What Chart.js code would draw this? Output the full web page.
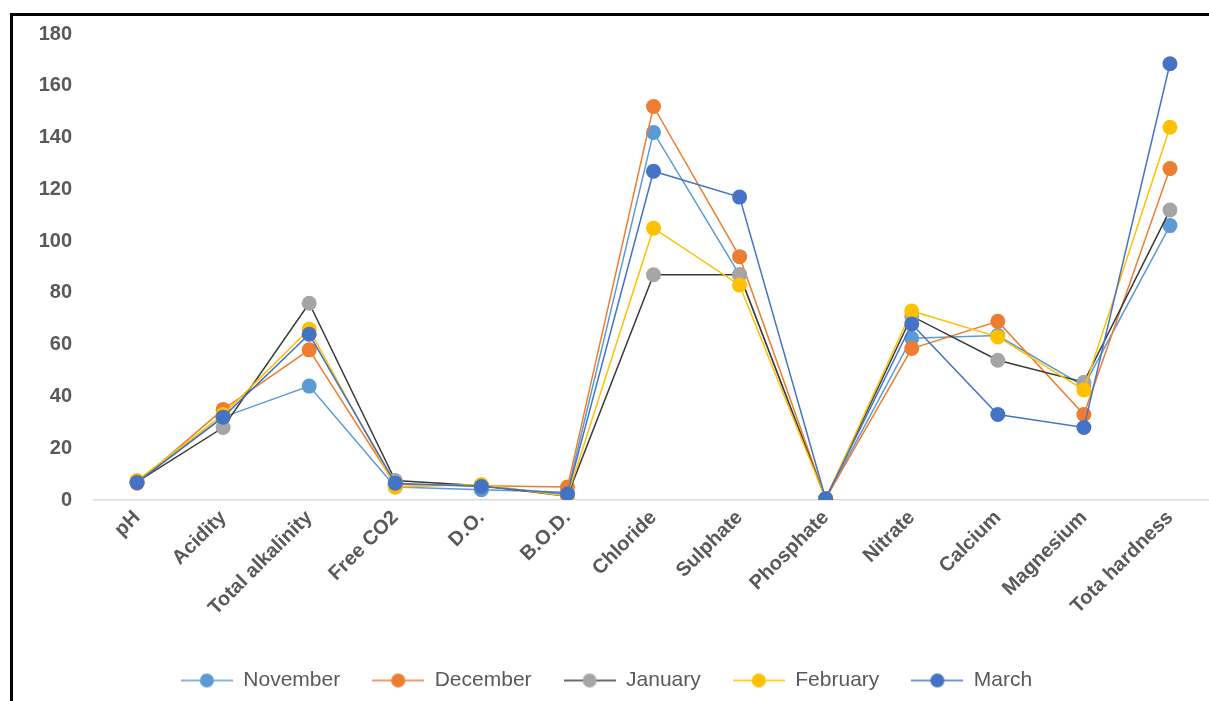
<!DOCTYPE html>
<html>
<head>
<meta charset="utf-8">
<script src="https://cdn.jsdelivr.net/npm/chart.js@4.4.0/dist/chart.umd.min.js"></script>
<style>
  html, body { margin: 0; padding: 0; width: 1209px; height: 701px; overflow: hidden; background: #fff; }
  #c { position: absolute; left: 0; top: 0; }
  #frame { position: absolute; left: 10px; top: 13px; width: 1300px; height: 800px; border: 3px solid #000; pointer-events: none; box-sizing: border-box; }
</style>
</head>
<body>
<canvas id="c" width="1230" height="701"></canvas>
<div id="frame"></div>
<script>
const categories = ['pH', 'Acidity', 'Total alkalinity', 'Free CO2', 'D.O.', 'B.O.D.', 'Chloride', 'Sulphate', 'Phosphate', 'Nitrate', 'Calcium', 'Magnesium', 'Tota hardness'];
const seriesNames = ['November', 'December', 'January', 'February', 'March'];
const november = [7, 32, 44, 5, 4, 3, 142, 87, 0.5, 62.5, 63.5, 44, 106];
const december = [6.5, 35, 58, 6, 5.5, 5, 152, 94, 0.5, 58.5, 69, 33, 128];
const january  = [7, 28, 76, 7.5, 5.5, 1.5, 87, 87, 0.5, 71, 54, 45.5, 112];
const february = [7.5, 33, 66, 5, 6, 1.5, 105, 83, 0.5, 73, 63, 42.5, 144];
const march    = [6.8, 32, 64, 6.5, 5.2, 2.3, 127, 117, 0.5, 68, 33, 28, 168.5];
const yTicks = { min: 0, max: 180, step: 20 };

const lineColors   = ['#5B9BD5', '#ED7D31', '#3A3A3A', '#FFC000', '#4472C4'];
const markerColors = ['#5B9BD5', '#ED7D31', '#A5A5A5', '#FFC000', '#4472C4'];
const values = [november, december, january, february, march];

function legendIcon(lc, mc) {
  const cv = document.createElement('canvas');
  cv.width = 52; cv.height = 16;
  const g = cv.getContext('2d');
  g.strokeStyle = lc; g.lineWidth = 1.5;
  g.beginPath(); g.moveTo(0, 8); g.lineTo(52, 8); g.stroke();
  g.fillStyle = mc;
  g.beginPath(); g.arc(26, 8, 7, 0, Math.PI * 2); g.fill();
  return cv;
}
const icons = seriesNames.map((n, i) => legendIcon(lineColors[i], markerColors[i]));

const datasets = seriesNames.map((name, i) => ({
  label: name,
  data: values[i],
  borderColor: lineColors[i],
  backgroundColor: markerColors[i],
  pointBackgroundColor: markerColors[i],
  pointBorderColor: markerColors[i],
  pointBorderWidth: 0,
  pointRadius: 7.5,
  pointHoverRadius: 7.5,
  borderWidth: 1.5,
  tension: 0,
  fill: false,
  order: seriesNames.length - i
}));

const tickFont = { family: '"Liberation Sans", Arial, sans-serif', size: 20, weight: 'bold' };

new Chart(document.getElementById('c'), {
  type: 'line',
  data: { labels: categories, datasets },
  options: {
    responsive: false,
    animation: false,
    devicePixelRatio: 1,
    layout: { padding: { top: 34, right: 17, left: 0, bottom: 0 } },
    scales: {
      x: {
        offset: true,
        grid: { display: false, drawTicks: false },
        border: { display: true, color: '#D9D9D9', width: 1.5 },
        ticks: { color: '#595959', font: tickFont, maxRotation: 45, minRotation: 45, padding: 6, autoSkip: false },
        afterFit: (s) => { s.height = 138; }
      },
      y: {
        min: yTicks.min, max: yTicks.max,
        grid: { display: false, drawTicks: false },
        border: { display: false },
        ticks: { stepSize: yTicks.step, color: '#595959', font: tickFont, padding: 22 },
        afterFit: (s) => { s.width = 94; }
      }
    },
    plugins: {
      tooltip: { enabled: false },
      legend: {
        position: 'bottom',
        labels: {
          usePointStyle: true,
          pointStyleWidth: 52,
          padding: 32,
          color: '#595959',
          font: { family: '"Liberation Sans", Arial, sans-serif', size: 21 },
          sort: (a, b) => a.datasetIndex - b.datasetIndex,
          generateLabels: (chart) => {
            const items = Chart.defaults.plugins.legend.labels.generateLabels(chart);
            items.forEach(it => { it.pointStyle = icons[it.datasetIndex]; });
            return items;
          }
        }
      }
    }
  }
});
</script>
</body>
</html>
